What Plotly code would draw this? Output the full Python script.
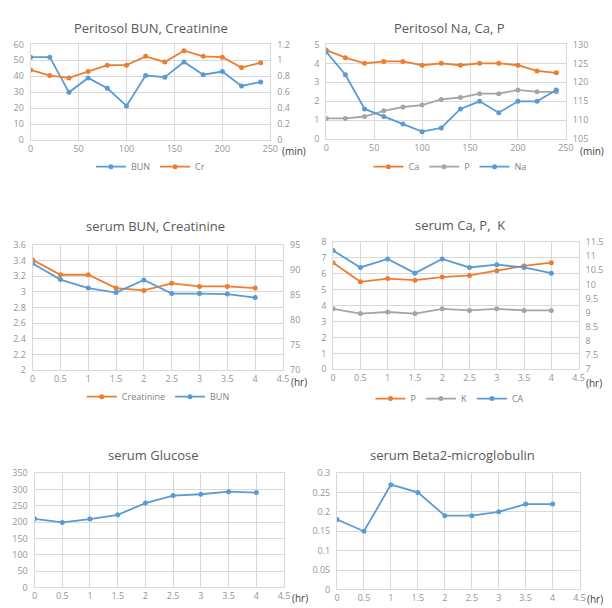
import plotly.graph_objects as go

W, H = 612, 608
BLUE = "#5B9BD5"
ORANGE = "#ED7D31"
GRAY = "#A5A5A5"
GRID = "#D9D9D9"
TICK = "#959595"
TITLE = "#595959"

# ---- data ----
min_x = [0, 20, 40, 60, 80, 100, 120, 140, 160, 180, 200, 220, 240]
peri_bun = [52, 52, 30, 39, 32.5, 21.5, 40.5, 39.5, 49, 41, 43, 34, 36.5]
peri_cr = [0.88, 0.81, 0.78, 0.86, 0.94, 0.94, 1.05, 0.98, 1.12, 1.05, 1.04, 0.91, 0.97]

peri_ca = [4.7, 4.3, 4.0, 4.1, 4.1, 3.9, 4.0, 3.9, 4.0, 4.0, 3.9, 3.6, 3.5]
peri_p = [1.1, 1.1, 1.2, 1.5, 1.7, 1.8, 2.1, 2.2, 2.4, 2.4, 2.6, 2.5, 2.5]
peri_na = [128, 122, 113, 111, 109, 107, 108, 113, 115, 112, 115, 115, 118]

hr_x = [0, 0.5, 1, 1.5, 2, 2.5, 3, 3.5, 4]
serum_cr = [3.41, 3.22, 3.22, 3.05, 3.02, 3.11, 3.07, 3.07, 3.05]
serum_bun = [91.3, 88.1, 86.4, 85.5, 88.0, 85.3, 85.3, 85.2, 84.5]

serum_p = [6.7, 5.5, 5.7, 5.6, 5.8, 5.9, 6.2, 6.5, 6.7]
serum_k = [3.8, 3.5, 3.6, 3.5, 3.8, 3.7, 3.8, 3.7, 3.7]
serum_ca = [11.2, 10.6, 10.9, 10.4, 10.9, 10.6, 10.7, 10.6, 10.4]

serum_glu = [210, 199, 209, 222, 258, 281, 285, 293, 290]
serum_b2m = [0.18, 0.15, 0.27, 0.25, 0.19, 0.19, 0.20, 0.22, 0.22]


def px(x):
    return x / W


def py(y):
    return 1 - y / H


fig = go.Figure()


def add(x, y, color, name, xa, ya, legend=None):
    fig.add_trace(go.Scatter(
        x=x, y=y, name=name, mode="lines+markers",
        line=dict(color=color, width=1.8),
        marker=dict(color=color, size=5),
        xaxis=xa, yaxis=ya,
        legend=legend if legend else "legend",
        showlegend=legend is not None,
    ))


# panel 1
add(min_x, peri_bun, BLUE, "BUN", "x", "y", "legend")
add(min_x, peri_cr, ORANGE, "Cr", "x", "y2", "legend")
# panel 2
add(min_x, peri_ca, ORANGE, "Ca", "x2", "y3", "legend2")
add(min_x, peri_p, GRAY, "P", "x2", "y3", "legend2")
add(min_x, peri_na, BLUE, "Na", "x2", "y4", "legend2")
# panel 3
add(hr_x, serum_cr, ORANGE, "Creatinine", "x3", "y5", "legend3")
add(hr_x, serum_bun, BLUE, "BUN", "x3", "y6", "legend3")
# panel 4
add(hr_x, serum_p, ORANGE, "P", "x4", "y7", "legend4")
add(hr_x, serum_k, GRAY, "K", "x4", "y7", "legend4")
add(hr_x, serum_ca, BLUE, "CA", "x4", "y8", "legend4")
# panel 5, 6
add(hr_x, serum_glu, BLUE, "Glucose", "x5", "y9")
add(hr_x, serum_b2m, BLUE, "Beta2", "x6", "y10")

tickfont = dict(family="Open Sans, Arial, sans-serif", size=9, color=TICK)

panels = [
    # (x0,x1,y0,y1, xrange, xdtick, yl range, yl dtick, yr range, yr dtick)
    (20, 264, 30, 128, [0, 250], 50, [0, 60], 10, [0, 1.2], 0.2),
    (321, 565, 30, 127, [0, 250], 50, [0, 5], 1, [105, 130], 5),
    (22, 277, 235, 363, [0, 4.5], 0.5, [2, 3.6], 0.2, [70, 95], 5),
    (328, 578, 232, 362, [0, 4.5], 0.5, [0, 8], 1, [7, 11.5], 0.5),
    (24, 278, 468, 585, [0, 4.5], 0.5, [0, 350], 50, None, None),
    (332, 579, 468, 587, [0, 4.5], 0.5, [0, 0.3], 0.05, None, None),
]

layout = {}
yi = 1
for i, (x0, x1, y0, y1, xr, xd, ylr, yld, yrr, yrd) in enumerate(panels):
    xn = "xaxis" if i == 0 else f"xaxis{i+1}"
    xref = "x" if i == 0 else f"x{i+1}"
    yl_name = "yaxis" if yi == 1 else f"yaxis{yi}"
    yl_ref = "y" if yi == 1 else f"y{yi}"
    layout[xn] = dict(
        domain=[px(x0), px(x1)], range=xr, dtick=xd, tick0=0,
        anchor=yl_ref, showgrid=True, gridcolor=GRID, gridwidth=1,
        showline=True, linecolor=GRID, mirror=True, zeroline=False,
        ticks="", tickfont=tickfont, fixedrange=True,
    )
    layout[yl_name] = dict(
        domain=[py(y1), py(y0)], range=ylr, dtick=yld, tick0=ylr[0],
        anchor=xref, showgrid=True, gridcolor=GRID, gridwidth=1,
        showline=True, linecolor=GRID, mirror=True, zeroline=False,
        ticks="", tickfont=tickfont, ticklabelstandoff=4,
    )
    yi += 1
    if yrr is not None:
        yr_name = f"yaxis{yi}"
        layout[yr_name] = dict(
            range=yrr, dtick=yrd, tick0=yrr[0], overlaying=yl_ref,
            side="right", anchor=xref, showgrid=False, zeroline=False,
            showline=False, ticks="", tickfont=tickfont, ticklabelstandoff=6,
        )
        yi += 1

legfont = dict(family="Open Sans, Arial, sans-serif", size=9, color="#7F7F7F")
for name, cx, cy in [("legend", 142, 155), ("legend2", 447, 155),
                     ("legend3", 150, 390), ("legend4", 447, 392)]:
    layout[name] = dict(
        x=px(cx), y=py(cy), xanchor="center", yanchor="middle",
        orientation="h", font=legfont, bgcolor="rgba(0,0,0,0)",
        itemwidth=30, tracegroupgap=0,
    )

titlefont = dict(family="Open Sans, Arial, sans-serif", size=13, color=TITLE)
titles = [
    ("Peritosol BUN, Creatinine", 143, 13),
    ("Peritosol Na, Ca, P", 447, 13),
    ("serum BUN, Creatinine", 147, 216),
    ("serum Ca, P,  K", 457, 215),
    ("serum Glucose", 145, 450),
    ("serum Beta2-microglobulin", 450, 450),
]
annotations = []
for t, cx, cy in titles:
    annotations.append(dict(text=t, x=px(cx), y=py(cy), xref="paper", yref="paper",
                            xanchor="center", yanchor="middle", showarrow=False,
                            font=titlefont))

unitfont = dict(family="Open Sans, Arial, sans-serif", size=10, color="#404040")
units = [("(min)", 288, 139), ("(min)", 592, 139), ("(hr)", 293, 375),
         ("(hr)", 594, 376), ("(hr)", 294, 596), ("(hr)", 595, 597)]
for t, cx, cy in units:
    annotations.append(dict(text=t, x=px(cx), y=py(cy), xref="paper", yref="paper",
                            xanchor="center", yanchor="middle", showarrow=False,
                            font=unitfont))

fig.update_layout(
    width=W, height=H, margin=dict(l=0, r=0, t=0, b=0),
    paper_bgcolor="white", plot_bgcolor="white",
    annotations=annotations, **layout,
)

fig.write_html("out.html", config={"displayModeBar": False})
